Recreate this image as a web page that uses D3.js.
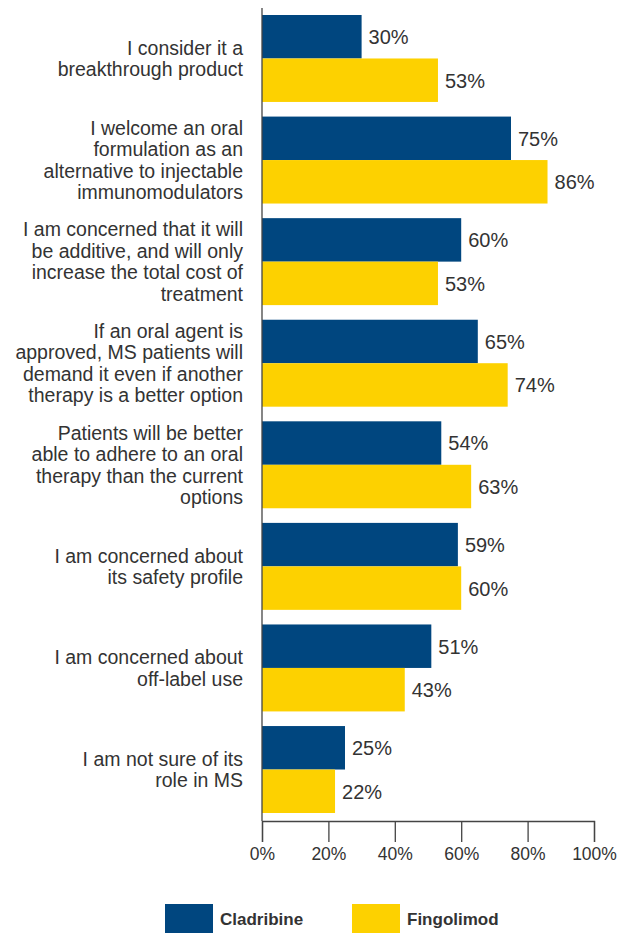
<!DOCTYPE html>
<html>
<head>
<meta charset="utf-8">
<script src="https://cdn.jsdelivr.net/npm/d3@7"></script>
<style>
  html, body { margin: 0; padding: 0; background: #fff; }
  svg { display: block; }
  text { font-family: "Liberation Sans", Arial, sans-serif; fill: #333; }
</style>
</head>
<body>
<svg id="chart" width="618" height="933"></svg>
<script>
// Survey statements (one per group), split into display lines
const statements = [
  ["I consider it a", "breakthrough product"],
  ["I welcome an oral", "formulation as an", "alternative to injectable", "immunomodulators"],
  ["I am concerned that it will", "be additive, and will only", "increase the total cost of", "treatment"],
  ["If an oral agent is", "approved, MS patients will", "demand it even if another", "therapy is a better option"],
  ["Patients will be better", "able to adhere to an oral", "therapy than the current", "options"],
  ["I am concerned about", "its safety profile"],
  ["I am concerned about", "off-label use"],
  ["I am not sure of its", "role in MS"]
];
const seriesNames = ["Cladribine", "Fingolimod"];
const cladribine = [30, 75, 60, 65, 54, 59, 51, 25];
const fingolimod = [53, 86, 53, 74, 63, 60, 43, 22];
const tickValues = [0, 20, 40, 60, 80, 100];
const colors = ["#00467f", "#fdd100"];

const svg = d3.select("#chart");
const plotLeft = 262, plotRight = 594, plotTop = 15, plotBottom = 813;

const x = d3.scaleLinear().domain([0, 100]).range([plotLeft, plotRight]);
const y = d3.scaleBand().domain(d3.range(statements.length))
  .range([plotTop, plotBottom]).paddingInner(0.144).paddingOuter(0);
const sub = d3.scaleBand().domain(seriesNames).range([0, y.bandwidth()]);

const series = [cladribine, fingolimod];

// Bars and value labels
seriesNames.forEach((name, s) => {
  const g = svg.append("g");
  g.selectAll("rect").data(series[s]).join("rect")
    .attr("x", x(0))
    .attr("y", (d, i) => y(i) + sub(name))
    .attr("width", d => x(d) - x(0))
    .attr("height", sub.bandwidth())
    .attr("fill", colors[s]);
  g.selectAll("text").data(series[s]).join("text")
    .attr("x", d => x(d) + 7)
    .attr("y", (d, i) => y(i) + sub(name) + sub.bandwidth() / 2)
    .attr("dy", "0.37em")
    .attr("font-size", 20)
    .text(d => d + "%");
});

// Category labels, right-aligned to the left of the axis
const lineH = 21.5;
statements.forEach((lines, i) => {
  const cy = y(i) + y.bandwidth() / 2;
  const t = svg.append("text")
    .attr("text-anchor", "end")
    .attr("font-size", 19.5);
  lines.forEach((ln, k) => {
    t.append("tspan")
      .attr("x", 243)
      .attr("y", cy + (k - (lines.length - 1) / 2) * lineH)
      .attr("dy", "0.36em")
      .text(ln);
  });
});

// Vertical baseline
svg.append("line")
  .attr("x1", x(0)).attr("x2", x(0))
  .attr("y1", 8).attr("y2", 821)
  .attr("stroke", "#444").attr("stroke-width", 1.3);

// Bottom axis
const axis = d3.axisBottom(x).tickValues(tickValues)
  .tickFormat(d => d + "%").tickSize(21).tickPadding(6);
const ga = svg.append("g").attr("transform", "translate(0,821)").call(axis);
ga.select(".domain").attr("stroke", "#444").attr("stroke-width", 1.3);
ga.selectAll(".tick line").attr("stroke", "#444").attr("stroke-width", 1.3);
ga.selectAll(".tick text").attr("font-size", 17.5)
  .attr("font-family", "Liberation Sans, Arial, sans-serif").attr("fill", "#333");

// Legend
const legendX = [165, 352];
seriesNames.forEach((name, s) => {
  svg.append("rect")
    .attr("x", legendX[s]).attr("y", 904)
    .attr("width", 48).attr("height", 29)
    .attr("fill", colors[s]);
  svg.append("text")
    .attr("x", legendX[s] + 55).attr("y", 925)
    .attr("font-size", 17).attr("font-weight", "bold")
    .text(name);
});
</script>
</body>
</html>
